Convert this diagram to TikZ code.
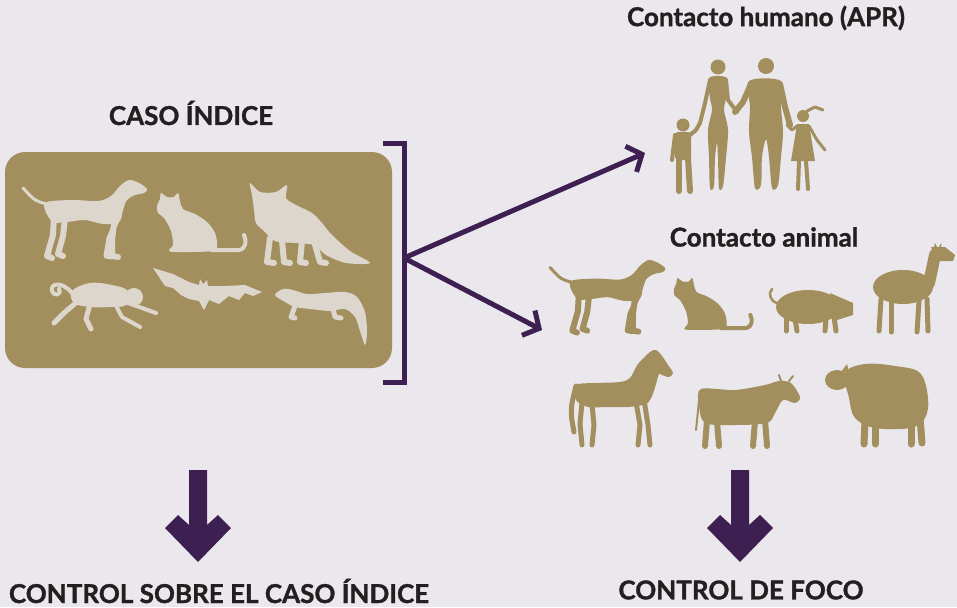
\documentclass[tikz,border=0pt]{standalone}
\usepackage{fontspec}
\setmainfont{Lato}[BoldFeatures={FakeBold=1.2}]
\usetikzlibrary{arrows.meta}
\definecolor{fondo}{HTML}{EAE8ED}
\definecolor{oro}{HTML}{A38F5E}
\definecolor{crema}{HTML}{DCD6CC}
\definecolor{morado}{HTML}{3E1F52}
\definecolor{texto}{HTML}{231F20}
\tikzset{
  pata/.style={line width=#1, line cap=round, line join=round},
  pata/.default=6pt,
  perro/.pic={
    \fill plot[smooth cycle,tension=.55] coordinates{(24,22) (50,20) (75,21) (88,16) (97,6) (106,0) (116,3) (124,9) (121,13) (112,15) (104,20) (100,30) (96,42) (80,44) (62,40) (44,42) (30,42) (22,30)};
    \draw[pata] (31,36) -- (30,55) -- (24,76) -- (29,78);
    \draw[pata] (42,38) -- (40,56) -- (35,74) -- (40,76);
    \draw[pata] (92,36) -- (89,60) -- (89,76) -- (95,77);
    \draw[pata=5pt] (96,36) -- (86,58) -- (83,76) -- (88,77);
    \draw[pata=3pt] (24,24) .. controls (12,21) .. (0,8);
  },
  gato/.pic={
    \fill plot[smooth cycle,tension=.55] coordinates{(2,13) (5,6) (6,0) (12,4) (19,4) (23,0) (25,8) (28,16) (40,21) (52,29) (60,40) (62,52) (58,58) (20,59) (14,57) (18,52) (16,38) (9,25) (3,20)};
    \draw[pata=4pt] (56,57) -- (84,57) .. controls (91,56) and (92,48) .. (89,42);
  },
  zorro/.pic={
    \fill plot[smooth cycle,tension=.5] coordinates{(0,0) (10,9) (26,9) (37,2) (36,15) (46,22) (62,30) (72,40) (82,52) (100,68) (120,80) (96,80) (76,72) (64,62) (45,60) (25,58) (14,48) (6,40) (4,27) (2,12)};
    \draw[pata] (20,55) -- (17,79) -- (24,80);
    \draw[pata] (32,57) -- (34,79) -- (40,80);
    \draw[pata] (52,58) -- (50,79) -- (56,80);
    \draw[pata] (64,58) -- (70,79) -- (76,80);
  },
  mono/.pic={
    \fill plot[smooth cycle,tension=.6] coordinates{(22,14) (40,6) (62,8) (78,14) (76,28) (60,30) (40,30) (24,26)};
    \fill (84,20) circle (9);
    \draw[pata=4pt] (22,16) .. controls (12,4) and (0,6) .. (2,14) .. controls (4,20) and (12,18) .. (9,12);
    \draw[pata=5pt] (28,24) -- (14,36) -- (4,46);
    \draw[pata=5pt] (40,27) -- (36,42) -- (41,52);
    \draw[pata=4pt] (64,25) -- (72,40) -- (90,50);
    \draw[pata=4pt] (72,24) -- (92,31) -- (106,36);
  },
  murcielago/.pic={
    \fill[line join=round] (0,0) -- (20,6) -- (36,14) -- (46,17) -- (47,11) -- (50,16) -- (54,12) -- (55,18) -- (72,18) -- (92,17) -- (109,24) -- (100,28) -- (92,25) -- (86,32) -- (76,28) -- (66,36) -- (56,32) -- (51,42) -- (46,33) -- (36,31) -- (28,27) -- (20,20) -- (12,18) -- (6,9) -- cycle;
  },
  huron/.pic={
    \fill plot[smooth cycle,tension=.5] coordinates{(0,8) (8,2) (18,3) (32,7) (50,6) (70,5) (82,10) (90,25) (92,45) (90,58) (85,44) (80,30) (70,22) (55,24) (35,22) (20,20) (10,15)};
    \draw[pata=5pt] (20,19) -- (16,30) -- (20,31);
    \draw[pata=5pt] (58,22) -- (60,30) -- (66,31);
  },
  nino/.pic={
    \fill (13,7) circle (6.5);
    \fill[rounded corners=3] (5,14) rectangle (21,42);
    \draw[pata] (9,40) -- (9,73);
    \draw[pata] (18,40) -- (20,73);
    \draw[pata=4pt] (5,17) -- (2,42);
    \draw[pata=4pt] (20,17) -- (26,12) -- (30,5);
  },
  mujer/.pic={
    \fill (18,9) circle (7.5);
    \fill plot[smooth cycle,tension=.5] coordinates{(9,20) (27,20) (26,40) (24,52) (28,72) (26,100) (23,128) (19,130) (18,100) (17,85) (15,100) (14,128) (10,130) (9,100) (8,72) (12,52) (10,40)};
    \draw[pata=4pt] (10,22) -- (5,45) -- (0,65);
    \draw[pata=4pt] (26,22) -- (28,42) -- (37,54);
  },
  hombre/.pic={
    \fill (23,9) circle (8);
    \fill plot[smooth cycle,tension=.5] coordinates{(6,24) (38,24) (38,50) (40,75) (38,100) (35,128) (29,131) (26,100) (23,82) (19,100) (18,128) (12,131) (9,100) (6,75) (7,50)};
    \draw[pata] (8,27) -- (0,45) -- (-8,55);
    \draw[pata] (37,27) -- (42,50) -- (47,68);
  },
  nina/.pic={
    \fill (16,11) circle (6);
    \draw[pata=3pt] (20,6) -- (28,2) -- (36,5);
    \fill (10,19) -- (22,19) -- (28,56) -- (4,56) -- cycle;
    \draw[pata=4pt] (12,56) -- (11,84);
    \draw[pata=4pt] (19,56) -- (21,84);
    \draw[pata=3pt] (10,21) -- (5,25) -- (0,20);
    \draw[pata=3pt] (22,21) -- (30,35) -- (38,45);
  },
  cerdo/.pic={
    \fill (40,22) ellipse (32 and 17);
    \fill (62,8) -- (85,18) -- (85,30) -- (66,36) -- cycle;
    \draw[pata=2.5pt] (9,18) .. controls (2,16) and (0,8) .. (4,4);
    \draw[pata=5pt] (18,32) -- (18,46);
    \draw[pata=5pt] (27,34) -- (29,46);
    \draw[pata=5pt] (58,34) -- (57,46);
    \draw[pata=5pt] (66,32) -- (68,46);
  },
  llama/.pic={
    \fill (30,44) ellipse (30 and 17);
    \draw[pata=12pt] (56,40) -- (62,12);
    \fill (58,4) -- (72,4) -- (82,12) -- (80,18) -- (62,18) -- cycle;
    \fill (60,8) -- (62,0) -- (65,6) -- (68,0) -- (69,8) -- cycle;
    \draw[pata=5pt] (8,56) -- (6,88);
    \draw[pata=5pt] (18,58) -- (18,89);
    \draw[pata=5pt] (46,58) -- (44,89);
    \draw[pata=5pt] (54,56) -- (55,88);
  },
  caballo/.pic={
    \fill plot[smooth cycle,tension=.5] coordinates{(8,35) (30,33) (52,32) (62,28) (70,14) (82,2) (88,0) (94,6) (100,15) (105,23) (101,27) (94,25) (91,24) (88,34) (84,46) (78,54) (60,57) (40,57) (20,57) (8,50)};
    \draw[pata=5pt] (14,52) -- (12,74) -- (14,95);
    \draw[pata=5pt] (24,54) -- (26,75) -- (24,95);
    \draw[pata=5pt] (68,52) -- (72,75) -- (70,95);
    \draw[pata=5pt] (76,50) -- (80,75) -- (82,95);
    \draw[pata=5pt] (8,36) .. controls (2,60) .. (6,82);
  },
  vaca/.pic={
    \fill plot[smooth cycle,tension=.5] coordinates{(6,14) (40,15) (70,10) (84,6) (96,8) (105,22) (100,28) (88,25) (80,38) (72,48) (40,50) (10,48) (4,30)};
    \draw[pata=2pt] (86,6) -- (84,0);
    \draw[pata=2pt] (94,6) -- (98,1);
    \draw[pata] (12,45) -- (10,71);
    \draw[pata] (22,47) -- (24,71);
    \draw[pata] (60,46) -- (58,71);
    \draw[pata] (70,45) -- (72,71);
    \draw[pata=2pt] (5,16) -- (1,55);
  },
  oveja/.pic={
    \fill plot[smooth cycle,tension=.6] coordinates{(20,15) (40,6) (70,8) (95,15) (103,40) (100,60) (85,70) (50,70) (30,60) (24,40)};
    \fill (12,22) ellipse (12 and 10);
    \fill (16,14) -- (22,6) -- (24,14) -- cycle;
    \draw[pata=7pt] (40,62) -- (39,86);
    \draw[pata=7pt] (50,64) -- (50,86);
    \draw[pata=7pt] (86,62) -- (86,86);
    \draw[pata=7pt] (95,60) -- (97,85);
  }
}
\begin{document}
\begin{tikzpicture}[x=1pt, y=-1pt,
  titulo/.style={font=\bfseries\fontsize{26}{30}\selectfont, text=texto},
  flecha/.style={morado, line width=5pt, -{Straight Barb[length=12pt,width=28pt]}}]

\fill [fondo] (0,0) rectangle (957,607);

\node [titulo] (caso) at (191,113) {CASO ÍNDICE};
\fill [oro, rounded corners=20pt] (5,152) rectangle (392,368);
\pic [color=crema] at (23,180) {perro};
\pic [color=crema] at (155,193) {gato};
\pic [color=crema] at (250,183) {zorro};
\pic [color=crema] at (50,277) {mono};
\pic [color=crema] at (153,268) {murcielago};
\pic [color=crema] at (275,287) {huron};

\draw [morado, line width=5pt] (383,143) -- (404,143) -- (404,382) -- (383,382);
\coordinate (union) at (404,258);
\coordinate (hum) at (645,153);
\coordinate (ani) at (542,330);
\draw [flecha] (union) -- (hum);
\draw [flecha] (union) -- (ani);

\node [titulo] (humano) at (766,18) {Contacto humano (APR)};
\pic [color=oro] at (670,118) {nino};
\pic [color=oro] at (700,58) {mujer};
\pic [color=oro] at (743,57) {hombre};
\pic [color=oro] at (787,105) {nina};

\node [titulo] (animal) at (764,237) {Contacto animal};
\pic [color=oro, scale=.93] at (550,260) {perro};
\pic [color=oro, scale=.88] at (672,278) {gato};
\pic [color=oro] at (768,285) {cerdo};
\pic [color=oro] at (873,243) {llama};
\pic [color=oro] at (568,350) {caballo};
\pic [color=oro] at (695,375) {vaca};
\pic [color=oro] at (825,358) {oveja};

\foreach \x in {198,740}
    \fill [morado] (\x-9,470) -- (\x+9,470) -- (\x+9,525) -- (\x+20,515) -- (\x+33,528) -- (\x,562) -- (\x-33,528) -- (\x-20,515) -- (\x-9,525) -- cycle;

\node [titulo] (control) at (219,591) {CONTROL SOBRE EL CASO ÍNDICE};
\node [titulo] (foco) at (741,590) {CONTROL DE FOCO};
\end{tikzpicture}
\end{document}
